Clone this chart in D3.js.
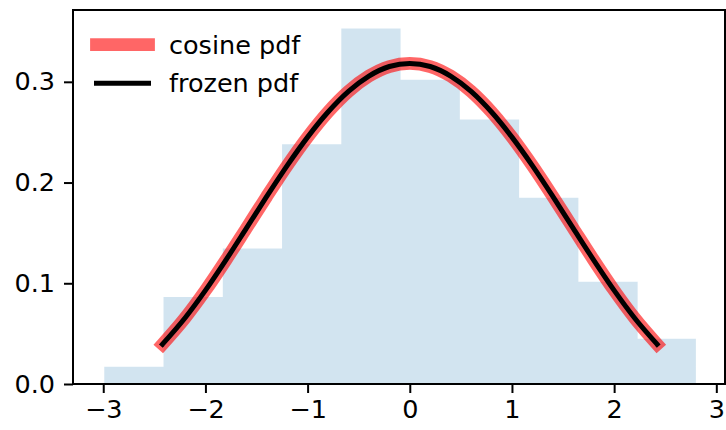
<!DOCTYPE html>
<html lang="en">
<head>
  <meta charset="UTF-8">
  <title>Cosine distribution</title>
  <script src="https://d3js.org/d3.v7.min.js"></script>
  <style>
    body { margin: 0; background: white; }
    svg text { font-family: "DejaVu Sans", sans-serif; font-size: 25.5px; fill: black; }
  </style>
</head>
<body>
  <svg id="chart" width="726" height="430"></svg>
  <script>
    // histogram of samples (density), bin edges and heights
    const binEdges = [-2.99, -2.41, -1.83, -1.25, -0.67, -0.09, 0.49, 1.07, 1.65, 2.23, 2.80];
    const binHeights = [0.0172, 0.0863, 0.1345, 0.238, 0.353, 0.302, 0.2625, 0.1848, 0.1015, 0.0449];

    // pdf curve points
    const pdfX = [-2.42, -2.2, -2.0, -1.8, -1.6, -1.4, -1.2, -1.0, -0.8, -0.6, -0.4, -0.2, 0,
                  0.2, 0.4, 0.6, 0.8, 1.0, 1.2, 1.4, 1.6, 1.8, 2.0, 2.2, 2.42];
    const pdfY = [0.0395, 0.0655, 0.0929, 0.1230, 0.1545, 0.1862, 0.2168, 0.2451, 0.2700, 0.2905, 0.3057, 0.3152, 0.3183,
                  0.3152, 0.3057, 0.2905, 0.2700, 0.2451, 0.2168, 0.1862, 0.1545, 0.1230, 0.0929, 0.0655, 0.0395];

    const xTicks = [-3, -2, -1, 0, 1, 2, 3];
    const yTicks = [0.0, 0.1, 0.2, 0.3];
    const legendLabels = ["cosine pdf", "frozen pdf"];

    const svg = d3.select("#chart");
    const plotLeft = 73, plotRight = 725, plotTop = 10, plotBottom = 384;

    const x = d3.scaleLinear().domain([-3.296, 3.085]).range([plotLeft, plotRight]);
    const y = d3.scaleLinear().domain([0, 0.3713]).range([plotBottom, plotTop]);

    // stepfilled histogram
    const steps = binHeights.map((h, i) => [binEdges[i], h]);
    steps.push([binEdges[binEdges.length - 1], binHeights[binHeights.length - 1]]);
    const area = d3.area()
      .x(d => x(d[0]))
      .y0(y(0))
      .y1(d => y(d[1]))
      .curve(d3.curveStepAfter);

    svg.append("path")
      .attr("d", area(steps))
      .attr("fill", "#1f77b4")
      .attr("fill-opacity", 0.2);

    const pts = pdfX.map((v, i) => [v, pdfY[i]]);
    const line = d3.line().x(d => x(d[0])).y(d => y(d[1])).curve(d3.curveMonotoneX);

    svg.append("path")
      .attr("d", line(pts))
      .attr("fill", "none")
      .attr("stroke", "red")
      .attr("stroke-opacity", 0.6)
      .attr("stroke-width", 12.8)
      .attr("stroke-linecap", "square")
      .attr("stroke-linejoin", "round");

    svg.append("path")
      .attr("d", line(pts))
      .attr("fill", "none")
      .attr("stroke", "black")
      .attr("stroke-width", 5)
      .attr("stroke-linecap", "square")
      .attr("stroke-linejoin", "round");

    // axes
    const xAxis = svg.append("g")
      .attr("transform", "translate(0," + plotBottom + ")")
      .call(d3.axisBottom(x).tickValues(xTicks).tickSize(9).tickPadding(7).tickFormat(d3.format("d")));
    const yAxis = svg.append("g")
      .attr("transform", "translate(" + plotLeft + ",0)")
      .call(d3.axisLeft(y).tickValues(yTicks).tickSize(9).tickPadding(9).tickFormat(d3.format(".1f")));

    [xAxis, yAxis].forEach(a => {
      a.select(".domain").remove();
      a.selectAll(".tick line").attr("stroke", "black").attr("stroke-width", 2);
      a.attr("font-family", null).attr("font-size", null);
    });

    svg.append("rect")
      .attr("x", plotLeft).attr("y", plotTop)
      .attr("width", plotRight - plotLeft).attr("height", plotBottom - plotTop)
      .attr("fill", "none")
      .attr("stroke", "black")
      .attr("stroke-width", 2);

    // legend
    const legend = svg.append("g");
    const legendStyles = [
      { stroke: "red", opacity: 0.6, width: 12.8 },
      { stroke: "black", opacity: 1, width: 5 }
    ];
    legendLabels.forEach((label, i) => {
      const cy = 44.7 + i * 38.6;
      legend.append("line")
        .attr("x1", 96.5).attr("x2", 148.5)
        .attr("y1", cy).attr("y2", cy)
        .attr("stroke", legendStyles[i].stroke)
        .attr("stroke-opacity", legendStyles[i].opacity)
        .attr("stroke-width", legendStyles[i].width)
        .attr("stroke-linecap", "square");
      legend.append("text")
        .attr("x", 169)
        .attr("y", cy + 8.8)
        .text(label);
    });
  </script>
</body>
</html>
